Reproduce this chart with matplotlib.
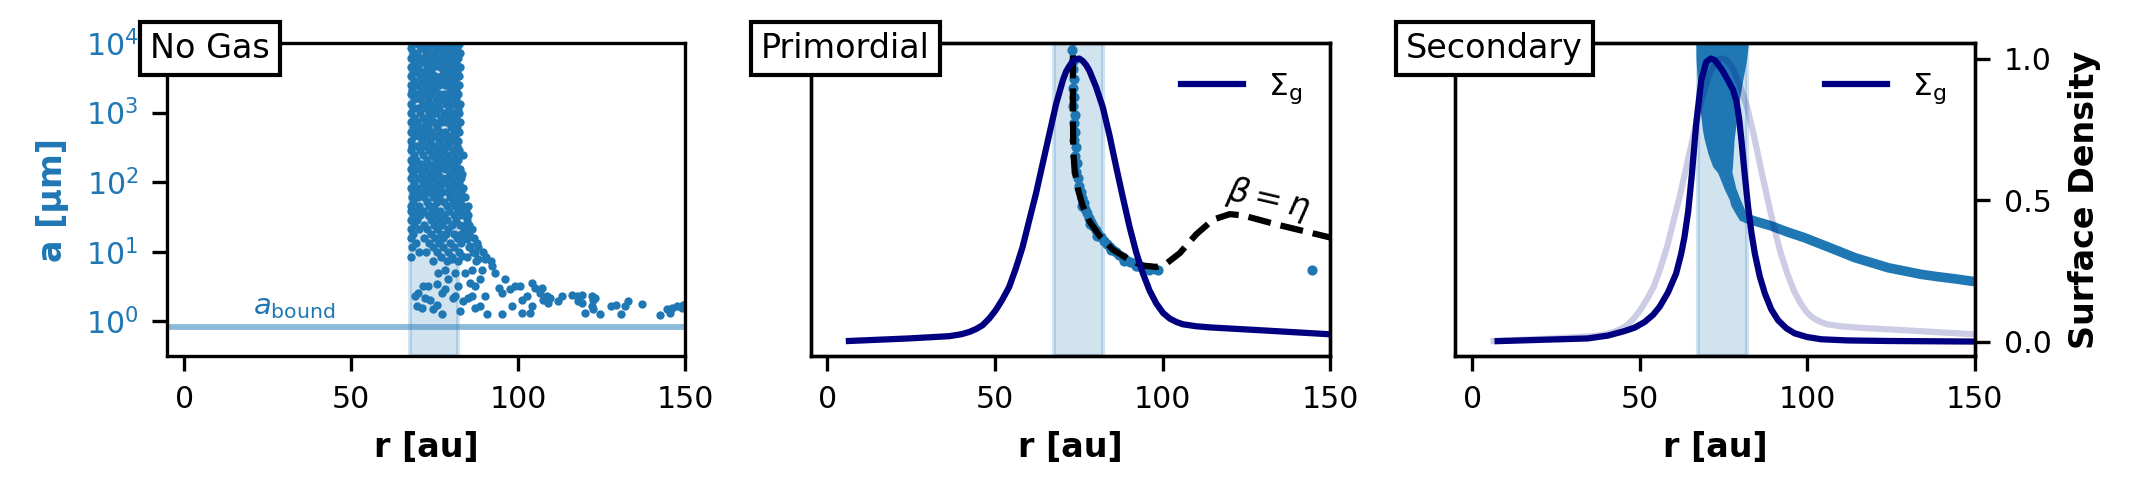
import numpy as np
import matplotlib
matplotlib.use("Agg")
import matplotlib.pyplot as plt
from matplotlib.ticker import NullLocator, FixedLocator

# ---------------- data ----------------
xticks = [0, 50, 100, 150]
band = (67.5, 82.1)                 # shaded ring region [au]
a_bound = 0.817                     # blow-out size [um]

# Panel 1 (No Gas): dense cloud, stored as rows of log10(a) with r-values
nogas_rows_loga = [3.99, 3.93, 3.86, 3.79, 3.72, 3.66, 3.59, 3.52, 3.46, 3.39, 3.32, 3.26,
                   3.19, 3.12, 3.06, 2.99, 2.92, 2.86, 2.79, 2.72, 2.66, 2.59, 2.52, 2.46,
                   2.39, 2.32, 2.26, 2.19, 2.12, 2.06, 1.99, 1.92, 1.86, 1.79, 1.72, 1.66,
                   1.59, 1.52, 1.46, 1.39, 1.32, 1.26, 1.19, 1.12, 1.06, 0.99, 0.92, 0.86]
nogas_rows_r = [
    [68.1, 69.9, 72.0, 74.3, 76.2, 78.5, 80.6, 82.3],
    [67.9, 70.8, 73.1, 75.4, 77.2, 79.6, 81.8],
    [68.6, 69.8, 72.4, 74.9, 76.8, 78.9, 81.1, 82.5],
    [67.8, 70.3, 71.9, 73.8, 76.1, 78.0, 80.2, 82.0],
    [68.9, 71.2, 73.4, 75.7, 77.6, 79.3, 81.4],
    [67.9, 70.0, 72.6, 74.5, 76.5, 78.4, 80.9, 82.6],
    [68.4, 69.5, 71.5, 73.9, 77.9, 79.8, 81.7],
    [67.8, 70.6, 72.8, 75.1, 76.9, 78.7, 80.6, 82.3],
    [68.7, 71.1, 73.5, 75.6, 77.4, 79.2, 81.2],
    [67.9, 69.7, 72.2, 74.2, 76.3, 78.1, 80.4, 82.4],
    [68.3, 70.9, 73.0, 75.0, 79.6, 81.5],
    [67.8, 69.4, 71.8, 74.1, 76.7, 77.8, 80.1, 82.1],
    [68.8, 70.5, 72.9, 75.3, 77.3, 79.0, 81.3],
    [67.9, 71.4, 73.7, 76.0, 78.3, 80.5, 82.6],
    [68.5, 69.9, 72.3, 74.6, 76.4, 79.4, 81.9],
    [67.8, 70.7, 73.2, 75.5, 77.7, 78.8, 80.8, 82.2],
    [68.9, 71.6, 74.0, 76.9, 79.2, 81.4],
    [67.9, 69.6, 72.5, 74.8, 77.0, 78.4, 80.3, 82.5],
    [68.4, 70.8, 73.1, 75.8, 79.9, 81.7],
    [67.8, 69.9, 71.9, 74.3, 76.6, 78.1, 80.7, 82.3],
    [68.7, 70.4, 72.7, 75.1, 77.5, 79.5, 81.2],
    [67.9, 71.3, 73.6, 76.2, 78.6, 80.2, 82.0],
    [68.3, 69.8, 72.2, 74.5, 77.0, 79.1, 81.6],
    [67.8, 70.6, 73.4, 75.7, 77.9, 80.5, 82.4],
    [68.8, 71.5, 74.1, 76.4, 78.7, 81.0, 83.4],
    [67.9, 69.5, 72.6, 75.3, 77.4, 79.8, 82.1],
    [68.5, 70.9, 73.0, 74.7, 76.8, 78.9, 81.3],
    [67.8, 69.9, 72.0, 74.4, 76.1, 78.2, 80.4, 82.6],
    [68.6, 71.1, 73.7, 75.9, 79.5, 81.8, 83.3],
    [67.9, 70.2, 72.4, 74.9, 77.2, 78.8, 80.9, 83.0],
    [68.9, 71.5, 73.3, 75.6, 77.8, 80.2, 82.4],
    [67.8, 69.7, 72.1, 74.3, 76.7, 79.3, 81.5, 83.6],
    [68.4, 70.8, 73.0, 75.2, 77.3, 78.9, 80.8, 82.9],
    [68.1, 69.9, 71.8, 74.6, 76.4, 79.7, 81.9, 84.1],
    [68.6, 72.6, 75.8, 77.9, 80.5, 82.7],
    [67.9, 70.4, 73.4, 74.9, 78.6, 81.2, 83.5, 85.0],
    [67.9, 69.2, 71.6, 74.1, 76.6, 79.4, 82.1, 84.3],
    [68.6, 70.6, 72.9, 75.3, 77.8, 80.7, 83.2, 85.1],
    [67.8, 69.7, 73.8, 76.2, 78.7, 81.5, 84.8],
    [68.9, 71.9, 74.7, 77.3, 80.1, 82.6, 85.4],
    [67.9, 70.3, 72.8, 75.6, 79.1, 83.7, 86.2],
    [68.6, 73.9, 76.9, 78.4, 80.8, 82.9, 85.3],
    [67.8, 71.7, 75.0, 77.6, 81.7, 84.1, 86.9],
    [69.3, 73.3, 76.3, 79.7, 83.0, 87.6],
    [68.1, 74.4, 77.6, 80.9, 85.2, 88.1],
    [70.2, 72.4, 75.8, 78.9, 82.2, 86.4, 89.6],
    [68.0, 76.9, 80.3, 84.6, 90.4],
    [74.5, 78.6, 81.9, 87.3, 91.8],
]
nogas_sparse_r = [69.1, 70.1, 72.1, 73.6, 69.6, 71.1, 74.6, 75.6, 77.1, 77.1, 78.1, 80.6, 81.1,
                  82.6, 83.6, 85.1, 86.1, 87.1, 88.6, 90.6, 95.1, 90.1, 94.1, 93.1, 92.1, 96.1,
                  95.1, 98.0, 97.5, 99.0, 100.5, 101.0, 101.0, 102.5, 104.0, 105.0, 104.0, 103.5,
                  87.1, 88.6, 85.6, 84.1, 86.1, 89.1, 90.1, 88.1, 87.1, 85.6, 84.6, 83.6, 83.1,
                  81.1, 79.1, 75.6, 73.1, 71.6, 76.1, 78.1, 82.1, 80.1,
                  107.0, 106.5, 107.5, 108.5, 109.0, 109.5, 112.0, 113.0, 116.0, 117.5, 118.0,
                  119.0, 119.0, 120.0, 122.0, 122.5, 123.0, 122.0, 122.5, 124.5, 127.9, 129.4,
                  130.9, 131.9, 132.9, 136.9, 142.4, 144.4, 145.4, 145.9, 147.4, 148.9, 149.4]
nogas_sparse_loga = [0.36, 0.41, 0.34, 0.31, 0.22, 0.19, 0.17, 0.24, 0.10, 0.41, 0.46, 0.34, 0.36,
                     0.14, 0.29, 0.34, 0.36, 0.19, 0.22, 0.10, 0.10, 0.36, 0.48, 0.70, 0.79, 0.60,
                     0.41, 0.22, 0.46, 0.51, 0.51, 0.12, 0.31, 0.36, 0.55, 0.48, 0.22, 0.12,
                     0.50, 0.60, 0.55, 0.70, 0.74, 0.74, 0.89, 0.89, 0.98, 1.08, 1.18, 1.37, 0.94,
                     0.70, 0.60, 0.53, 0.50, 0.50, 0.70, 0.74, 0.50, 0.89,
                     0.48, 0.41, 0.31, 0.36, 0.26, 0.34, 0.29, 0.36, 0.38, 0.36, 0.29,
                     0.38, 0.26, 0.12, 0.36, 0.31, 0.34, 0.22, 0.17, 0.10, 0.22, 0.24,
                     0.11, 0.22, 0.29, 0.25, 0.09, 0.17, 0.12, 0.19, 0.22, 0.19, 0.23]

# Panel 2 (Primordial): grains and beta = eta curve
prim_grain_r = [73.0, 73.4, 73.1, 73.5, 73.2, 73.6, 73.3, 73.7, 73.4, 73.8, 73.5, 74.0, 73.8,
                74.3, 74.2, 74.8, 74.9, 75.5, 75.8, 76.4, 76.9, 77.4, 78.0, 78.6, 79.3, 80.0,
                80.8, 81.6, 82.4, 83.3, 84.2, 85.1, 86.0, 87.0, 88.0, 89.1, 90.2, 91.3, 92.5,
                93.7, 95.0, 96.3, 97.6, 98.6, 80.5, 84.5, 88.5, 92.0, 96.0, 76.0, 78.2, 144.6]
prim_grain_loga = [3.90, 3.75, 3.62, 3.48, 3.35, 3.22, 3.10, 2.97, 2.85, 2.72, 2.60, 2.50, 2.38,
                   2.28, 2.15, 2.06, 1.95, 1.86, 1.77, 1.70, 1.62, 1.55, 1.49, 1.43, 1.37, 1.31,
                   1.26, 1.21, 1.16, 1.11, 1.07, 1.03, 0.99, 0.95, 0.92, 0.88, 0.85, 0.83, 0.80,
                   0.78, 0.77, 0.76, 0.75, 0.74, 1.22, 1.02, 0.87, 0.79, 0.73, 1.66, 1.40, 0.73]
beta_eta_r = [73.2, 73.2, 73.2, 73.3, 73.7, 74.7, 76.1, 78.1, 81.1, 85.1, 90.1, 94.1, 98.1,
              101.1, 105.1, 110.0, 115.0, 120.0, 124.0, 134.0, 149.4, 151.0]
beta_eta_loga = [4.30, 4.06, 3.10, 2.47, 2.18, 1.90, 1.66, 1.44, 1.23, 1.03, 0.88, 0.80, 0.78,
                 0.83, 0.98, 1.25, 1.46, 1.54, 1.52, 1.39, 1.21, 1.19]

# Normalised gas surface density, primordial disc
sig_prim_r = [6.4, 24.3, 36.3, 40.0, 42.3, 44.3, 46.3, 48.3, 50.2, 52.2, 54.2, 56.2, 58.2, 60.2,
              62.2, 64.2, 66.2, 68.2, 70.2, 71.2, 72.2, 73.1, 74.1, 75.1, 76.1, 77.1, 78.1, 80.1,
              82.1, 84.1, 86.1, 88.1, 90.1, 92.1, 94.1, 96.1, 98.1, 100.1, 102.1, 104.1, 106.0,
              110.0, 114.0, 129.0, 149.4, 151.0]
sig_prim = [0.003, 0.012, 0.020, 0.027, 0.035, 0.045, 0.059, 0.083, 0.112, 0.150, 0.194, 0.260,
            0.335, 0.430, 0.524, 0.630, 0.735, 0.840, 0.923, 0.955, 0.975, 0.990, 0.998, 1.000,
            0.992, 0.978, 0.958, 0.900, 0.829, 0.730, 0.618, 0.510, 0.406, 0.315, 0.241, 0.180,
            0.135, 0.102, 0.082, 0.070, 0.062, 0.055, 0.051, 0.041, 0.027, 0.026]

# Normalised gas surface density, secondary disc
sig_sec_r = [7.6, 34.5, 40.5, 45.5, 48.5, 51.5, 54.0, 56.0, 58.5, 60.9, 62.4, 63.4, 64.5, 65.6,
             66.9, 68.4, 69.9, 71.2, 72.4, 73.4, 74.9, 76.4, 77.9, 78.9, 79.7, 80.4, 81.4, 82.4,
             83.4, 84.4, 85.9, 87.4, 89.3, 91.3, 93.8, 96.3, 100.0, 104.3, 112.0, 124.2, 149.6, 151.0]
sig_sec = [0.0025, 0.012, 0.022, 0.038, 0.050, 0.070, 0.095, 0.124, 0.175, 0.241, 0.310, 0.370,
           0.460, 0.590, 0.770, 0.923, 0.988, 1.000, 0.995, 0.980, 0.955, 0.923, 0.890, 0.850,
           0.790, 0.712, 0.590, 0.476, 0.385, 0.312, 0.230, 0.171, 0.115, 0.077, 0.048, 0.030,
           0.017, 0.009, 0.005, 0.003, 0.001, 0.001]

# Panel 3 (Secondary): envelope of the dense grain cloud and its outer tail
sec_cloud_left_loga = [4.10, 3.75, 3.50, 3.25, 3.00, 2.75, 2.62, 2.40, 2.23, 2.14, 1.90, 1.75, 1.66, 1.52, 1.46]
sec_cloud_left_r = [67.4, 67.5, 67.8, 68.3, 68.8, 69.4, 69.9, 71.1, 72.4, 73.9, 75.9, 77.4, 77.9, 79.6, 80.4]
sec_cloud_right_loga = [1.46, 1.55, 1.66, 1.75, 1.90, 2.14, 2.23, 2.62, 3.00, 3.25, 3.50, 3.75, 4.10]
sec_cloud_right_r = [83.4, 81.4, 80.4, 79.6, 78.4, 77.2, 77.4, 77.9, 78.9, 79.7, 80.6, 81.6, 82.4]
sec_tail_r = [81.8, 84.4, 89.3, 94.3, 99.3, 104.3, 109.3, 114.3, 119.3, 124.2, 129.2, 134.2, 139.2, 144.1, 149.6]
sec_tail_loga = [1.48, 1.44, 1.37, 1.28, 1.20, 1.105, 1.01, 0.913, 0.841, 0.769, 0.721, 0.673, 0.639, 0.610, 0.572]

panel_titles = ["No Gas", "Primordial", "Secondary"]
title_x = [0.082, 0.067, 0.075]

# ---------------- figure ----------------
BLUE = "tab:blue"
NAVY = "navy"
W, H = 2136, 498
fig = plt.figure(figsize=(W / 300, H / 300), dpi=300)


def axpos(left, right, top=43, bottom=356):
    return [left / W, 1 - bottom / H, (right - left) / W, (bottom - top) / H]


ax1 = fig.add_axes(axpos(167.4, 685.3))
ax2 = fig.add_axes(axpos(810.7, 1330.4), sharey=ax1)
ax3 = fig.add_axes(axpos(1455.4, 1974.5), sharey=ax1)
axes = [ax1, ax2, ax3]

TICK_FS = 7.2
LAB_FS = 8

for ax in axes:
    ax.set_yscale("log")
    ax.set_ylim(10 ** -0.5, 1e4)
    ax.set_xlim(-5, 150)
    ax.set_xticks(xticks)
    ax.yaxis.set_minor_locator(NullLocator())
    ax.axvspan(band[0], band[1], color=BLUE, alpha=0.2, lw=1.0, zorder=0)
    ax.tick_params(axis="both", labelsize=TICK_FS)
    ax.set_xlabel("r [au]", fontsize=LAB_FS, fontweight="bold")

# panel 1
rr, ll = [], []
for lg, rs in zip(nogas_rows_loga, nogas_rows_r):
    rr.extend(rs)
    ll.extend([lg] * len(rs))
ax1.scatter(rr, 10 ** np.array(ll), s=4, color=BLUE, lw=0, zorder=2)
ax1.scatter(nogas_sparse_r, 10 ** np.array(nogas_sparse_loga), s=4, color=BLUE, lw=0, zorder=2)
ax1.axhline(a_bound, color=BLUE, alpha=0.5, lw=1.4, zorder=1)
ax1.text(20.7, 1.25, r"$a_{\rm bound}$", color=BLUE, fontsize=7, ha="left", va="baseline")
ax1.set_ylabel("a [μm]", color=BLUE, fontsize=LAB_FS, fontweight="bold")
ax1.tick_params(axis="y", labelcolor=BLUE)

# panel 2
ax2.scatter(prim_grain_r, 10 ** np.array(prim_grain_loga), s=6, color=BLUE, lw=0, zorder=2)
ax2.plot(beta_eta_r, 10 ** np.array(beta_eta_loga), "k--", lw=1.5, zorder=3)
ax2.text(131.5, 10 ** 1.75, r"$\beta = \eta$", rotation=-13, ha="center", va="center", fontsize=8)

# panel 3
env_r = sec_cloud_left_r + sec_cloud_right_r
env_l = sec_cloud_left_loga + sec_cloud_right_loga
ax3.fill(env_r, 10 ** np.array(env_l), color=BLUE, lw=0.8, zorder=2)
ax3.plot(sec_tail_r, 10 ** np.array(sec_tail_loga), color=BLUE, lw=2.3,
         solid_capstyle="round", zorder=2)

# twin axes with normalised surface densities
tw2 = ax2.twinx()
tw3 = ax3.twinx()
for tw in (tw2, tw3):
    tw.set_ylim(-0.05, 1.055)
tw2.plot(sig_prim_r, sig_prim, color=NAVY, lw=1.5, label=r"$\Sigma_{\rm g}$")
tw2.tick_params(axis="y", right=False, labelright=False)
tw3.plot(sig_prim_r, sig_prim, color=NAVY, lw=1.5, alpha=0.2)
tw3.plot(sig_sec_r, sig_sec, color=NAVY, lw=1.5, label=r"$\Sigma_{\rm g}$")
tw3.yaxis.set_major_locator(FixedLocator([0.0, 0.5, 1.0]))
tw3.set_yticklabels(["0.0", "0.5", "1.0"])
tw3.tick_params(axis="y", labelsize=TICK_FS)
tw3.set_ylabel("Surface Density", fontsize=LAB_FS, fontweight="bold")
for tw in (tw2, tw3):
    tw.legend(loc="upper right", frameon=False, fontsize=7.5)

# hide the left y axis on panels 2 and 3 (after twinx, which re-enables it)
for ax in (ax2, ax3):
    ax.tick_params(axis="y", which="both", left=False, labelleft=False, right=False, labelright=False)

# panel title boxes
for host, title, tx in zip([ax1, tw2, tw3], panel_titles, title_x):
    host.text(tx, 0.984, title, transform=host.transAxes, ha="center", va="center",
              fontsize=8, zorder=20,
              bbox=dict(boxstyle="square,pad=0.3", fc="white", ec="black", lw=1.0))

fig.savefig("out.png", dpi=300)
